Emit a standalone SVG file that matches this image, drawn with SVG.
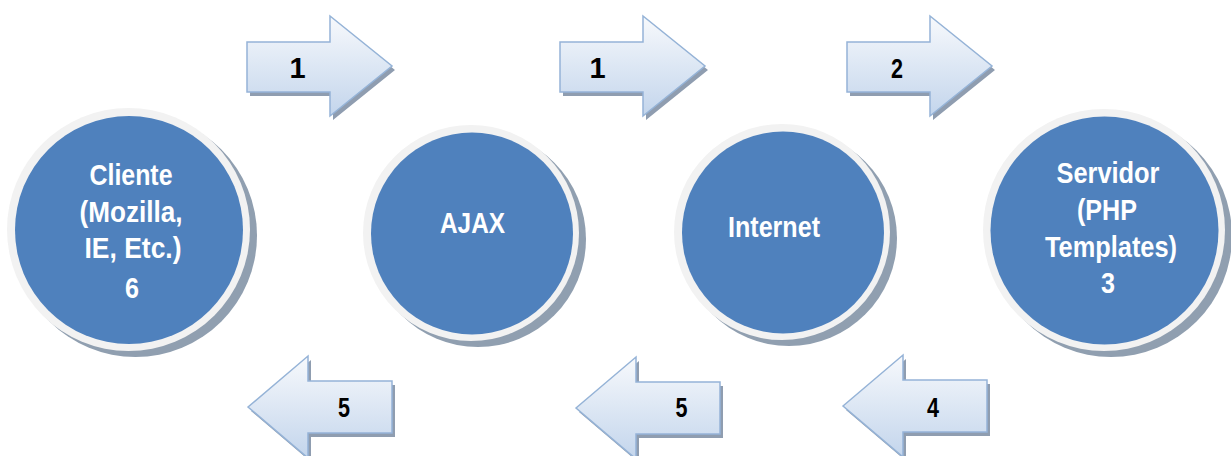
<svg xmlns="http://www.w3.org/2000/svg" width="1231" height="456" viewBox="0 0 1231 456">
<defs>
<linearGradient id="ag" x1="0" y1="0" x2="0" y2="1">
<stop offset="0" stop-color="#f7f9fc"/>
<stop offset="1" stop-color="#c3d5ec"/>
</linearGradient>
<path id="ra" d="M0,26 H83 V0 L145,50 L83,100 V76 H0 Z"/>
<path id="la" d="M0,51 L60,0 V25 H144 V77 H60 V102 Z"/>
</defs>
<style>
.ring{fill:#f2f2f2}
.disc{fill:#4f81bd}
.csh{fill:#909fb0}
.ash{fill:#8f9db0}
.arr{fill:url(#ag);stroke:#95b3d7;stroke-width:1.5}
.ct{font-family:"Liberation Sans",Arial,sans-serif;font-weight:bold;font-size:30px;fill:#ffffff;text-anchor:middle}
.d1{font-family:"Liberation Sans",Arial,sans-serif;font-weight:bold;font-size:29px;fill:#000000;text-anchor:middle}
.dn{font-family:"Liberation Sans",Arial,sans-serif;font-weight:bold;font-size:28px;fill:#000000;text-anchor:middle}
</style>
<rect width="1231" height="456" fill="#ffffff"/>
<g id="connectors">
<g id="arrow-1a" transform="translate(247,16)">
<use href="#ra" class="ash" x="3" y="4"/>
<use href="#ra" class="arr"/>
<text class="d1" x="50.5" y="62">1</text>
</g>
<g id="arrow-1b" transform="translate(560,16)">
<use href="#ra" class="ash" x="3" y="4"/>
<use href="#ra" class="arr"/>
<text class="d1" x="37.5" y="62">1</text>
</g>
<g id="arrow-2" transform="translate(847,16)">
<use href="#ra" class="ash" x="3" y="4"/>
<use href="#ra" class="arr"/>
<text class="dn" x="50" y="62" textLength="12" lengthAdjust="spacingAndGlyphs">2</text>
</g>
<g id="arrow-4" transform="translate(843,355)">
<use href="#la" class="ash" x="3" y="4"/>
<use href="#la" class="arr"/>
<text class="dn" x="90" y="62" textLength="12" lengthAdjust="spacingAndGlyphs">4</text>
</g>
<g id="arrow-5b" transform="translate(576,357)">
<use href="#la" class="ash" x="3" y="4"/>
<use href="#la" class="arr"/>
<text class="dn" x="105.5" y="60" textLength="12" lengthAdjust="spacingAndGlyphs">5</text>
</g>
<g id="arrow-5a" transform="translate(248,356)">
<use href="#la" class="ash" x="3" y="4"/>
<use href="#la" class="arr"/>
<text class="dn" x="96" y="61" textLength="12" lengthAdjust="spacingAndGlyphs">5</text>
</g>
</g>
<g id="node-cliente">
<circle class="csh" cx="135.5" cy="235.5" r="121.5"/>
<circle class="ring" cx="128.5" cy="229.5" r="121.5"/>
<circle class="disc" cx="129" cy="230" r="114"/>
<text class="ct" x="131" y="185" textLength="83" lengthAdjust="spacingAndGlyphs">Cliente</text>
<text class="ct" x="131" y="222" textLength="103" lengthAdjust="spacingAndGlyphs">(Mozilla,</text>
<text class="ct" x="133" y="258" textLength="97" lengthAdjust="spacingAndGlyphs">IE, Etc.)</text>
<text class="ct" x="132" y="298" textLength="14" lengthAdjust="spacingAndGlyphs">6</text>
</g>
<g id="node-ajax">
<circle class="csh" cx="478" cy="239" r="108"/>
<circle class="ring" cx="471" cy="233" r="108"/>
<circle class="disc" cx="472" cy="233.5" r="101"/>
<text class="ct" x="472.5" y="233" textLength="65" lengthAdjust="spacingAndGlyphs">AJAX</text>
</g>
<g id="node-internet">
<circle class="csh" cx="789" cy="238" r="108"/>
<circle class="ring" cx="782" cy="232" r="108"/>
<circle class="disc" cx="783" cy="232.5" r="101"/>
<text class="ct" x="774" y="237" textLength="92" lengthAdjust="spacingAndGlyphs">Internet</text>
</g>
<g id="node-servidor">
<circle class="csh" cx="1111" cy="236" r="121"/>
<circle class="ring" cx="1104" cy="230" r="121"/>
<circle class="disc" cx="1104.5" cy="230.5" r="114"/>
<text class="ct" x="1108" y="183" textLength="103" lengthAdjust="spacingAndGlyphs">Servidor</text>
<text class="ct" x="1107" y="220" textLength="60" lengthAdjust="spacingAndGlyphs">(PHP</text>
<text class="ct" x="1111" y="257" textLength="132" lengthAdjust="spacingAndGlyphs">Templates)</text>
<text class="ct" x="1108" y="293" textLength="14" lengthAdjust="spacingAndGlyphs">3</text>
</g>
</svg>
